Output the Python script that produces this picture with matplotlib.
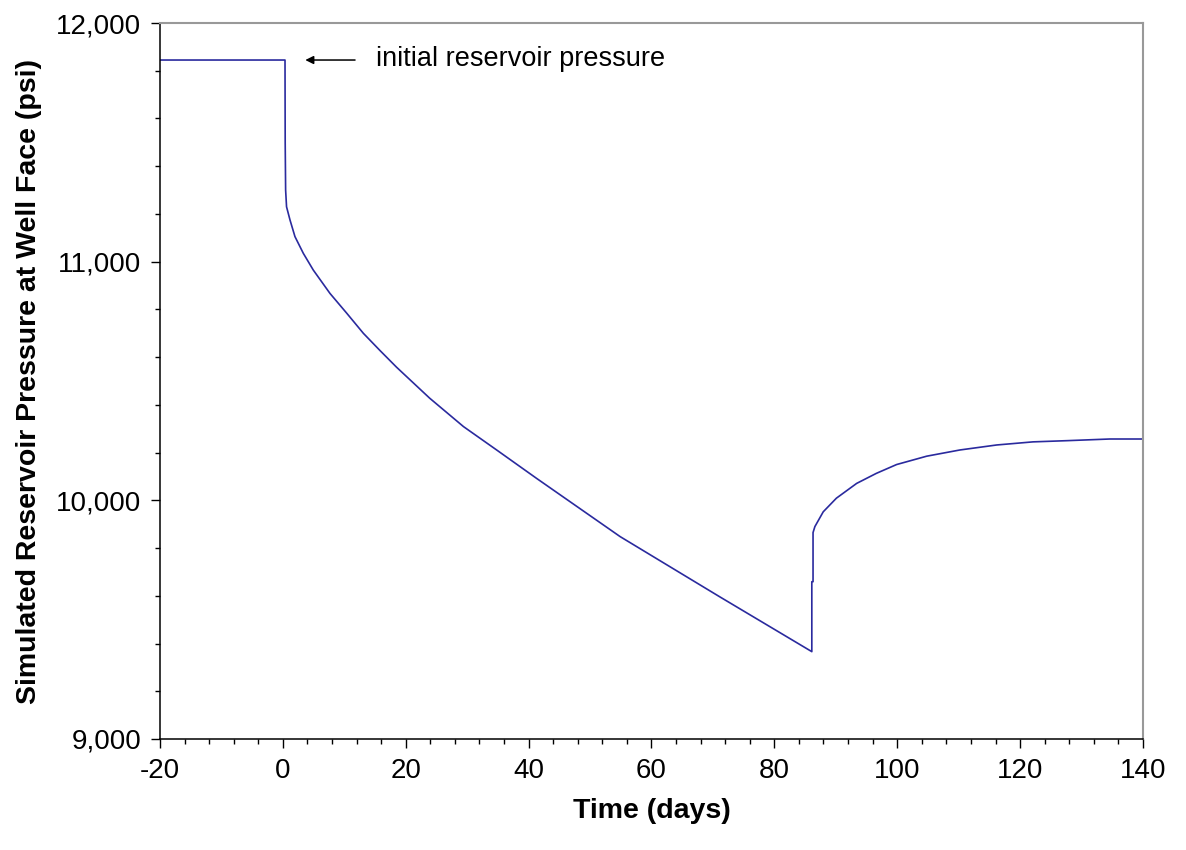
import numpy as np
import matplotlib
matplotlib.use("Agg")
import matplotlib.pyplot as plt
from matplotlib.ticker import MultipleLocator, FuncFormatter

plt.rcParams['font.family'] = ['Liberation Sans', 'DejaVu Sans']
plt.rcParams['axes.unicode_minus'] = False

# simulated well-face pressure
time_days = [-20, 0.35, 0.38, 0.45, 0.6, 1.16, 1.97, 3.33, 4.95, 7.67, 10.4, 13.1,
             15.8, 18.5, 23.9, 29.4, 34.8, 41.3, 54.9, 71.1, 86.1, 86.1,
             86.3, 86.3, 86.6, 87.96, 90.1, 93.4, 96.6, 99.9, 104.8, 110.2,
             116.2, 122.1, 127.6, 134.6, 140]
pressure_psi = [11845, 11845, 11500, 11300, 11230, 11175, 11105, 11035, 10965,
                10867, 10784, 10700, 10628, 10558, 10428, 10309, 10211,
                10092, 9848, 9596, 9366, 9659, 9659, 9865, 9890, 9952, 10009,
                10071, 10113, 10150, 10185, 10211, 10232, 10245, 10250, 10257,
                10257]

fig = plt.figure(figsize=(11.86, 8.5), dpi=100)
ax = fig.add_axes([0.1349, 0.1306, 0.8288, 0.8423])

ax.plot(time_days, pressure_psi, color='#2a2a9e', lw=1.2)

ax.set_xlim(-20, 140)
ax.set_ylim(9000, 12000)
ax.xaxis.set_major_locator(MultipleLocator(20))
ax.xaxis.set_minor_locator(MultipleLocator(4))
ax.yaxis.set_major_locator(MultipleLocator(1000))
ax.yaxis.set_minor_locator(MultipleLocator(200))
ax.yaxis.set_major_formatter(FuncFormatter(lambda v, p: f"{v:,.0f}"))

ax.tick_params(which='major', direction='out', length=6.5, width=1, labelsize=20, pad=7)
ax.tick_params(which='minor', direction='out', length=3.5, width=1)
ax.tick_params(axis='y', which='both', right=False)
ax.tick_params(axis='x', which='both', top=False)

for side in ['left', 'bottom']:
    ax.spines[side].set_color('black')
    ax.spines[side].set_linewidth(1.1)
for side in ['top', 'right']:
    ax.spines[side].set_color('#999999')
    ax.spines[side].set_linewidth(1.5)

ax.set_xlabel("Time (days)", fontsize=20.5, fontweight='bold', labelpad=10)
ax.set_ylabel("Simulated Reservoir Pressure at Well Face (psi)", fontsize=20.5,
              fontweight='bold', labelpad=10)

# annotation
ax.annotate("", xy=(3.2, 11845), xytext=(12.2, 11845),
            arrowprops=dict(arrowstyle='-|>', color='black', lw=1.1,
                            mutation_scale=12))
ax.text(15.2, 11850, "initial reservoir pressure", fontsize=19.5, va='center', ha='left')

fig.savefig("out.png", dpi=100)
